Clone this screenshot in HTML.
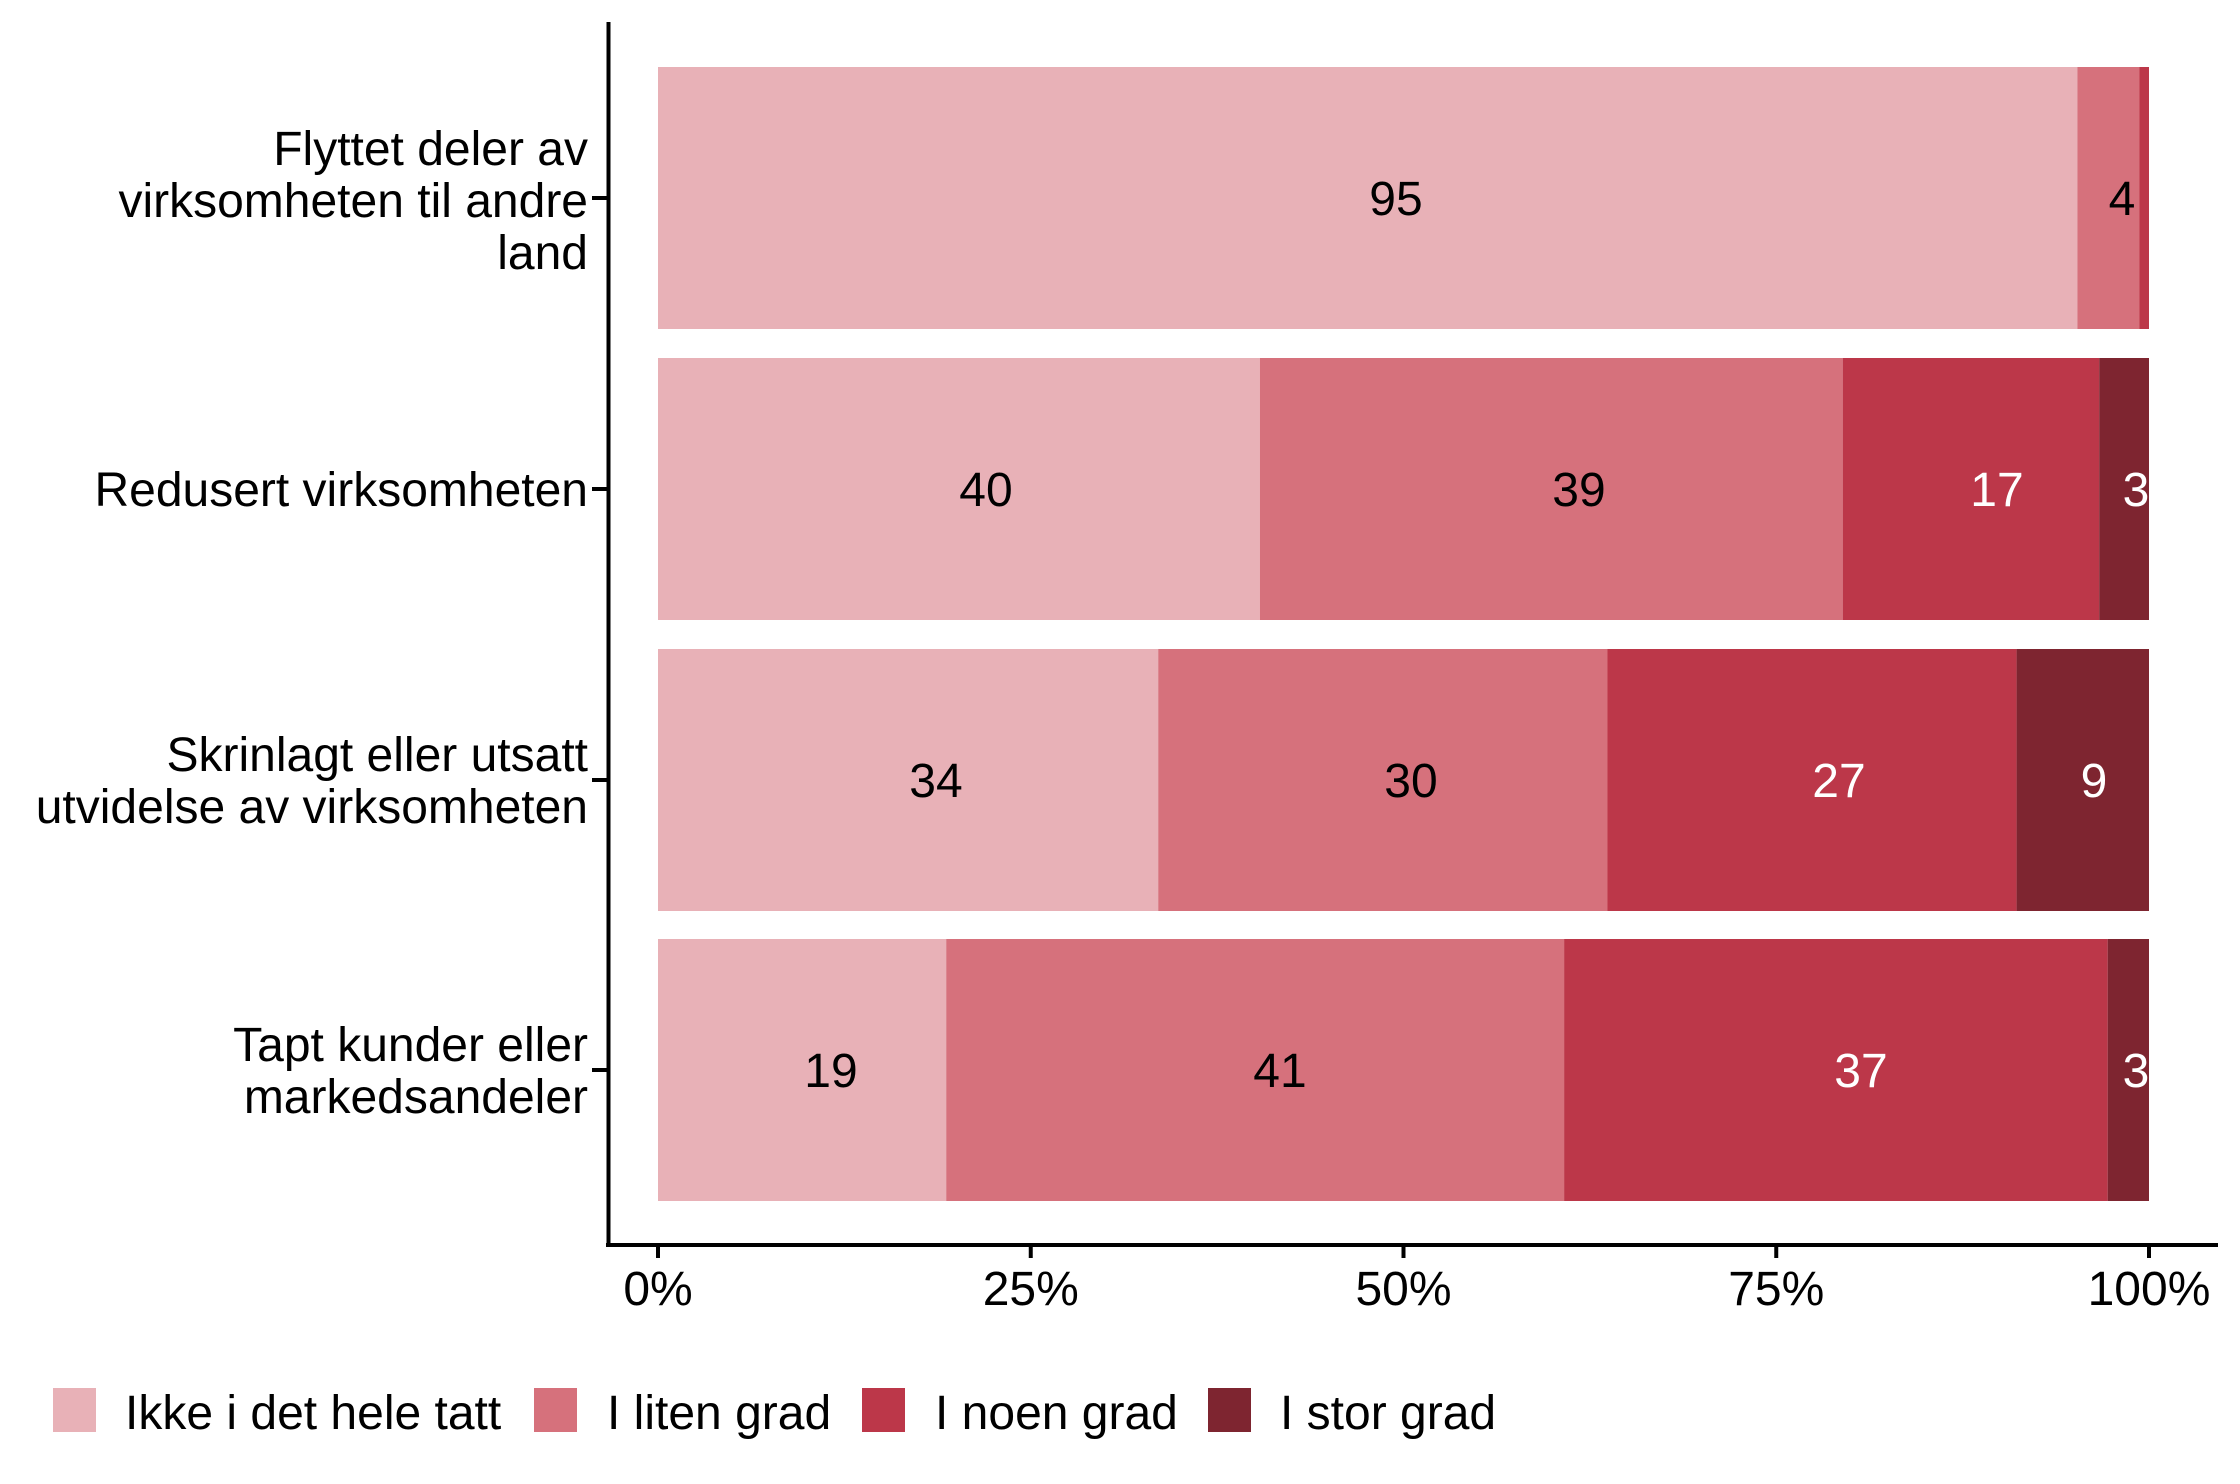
<!DOCTYPE html>
<html><head><meta charset="utf-8"><style>
html,body{margin:0;padding:0;background:#fff}
svg{display:block}
text{font-family:"Liberation Sans",Arial,sans-serif;font-size:48px}
</style></head><body>
<svg width="2240" height="1484" viewBox="0 0 2240 1484" xmlns="http://www.w3.org/2000/svg">
<g>
<rect x="658" y="67" width="1419.4" height="262" fill="#E8B1B7"/>
<rect x="2077.4" y="67" width="62.1" height="262" fill="#D6717C"/>
<rect x="2139.5" y="67" width="9.5" height="262" fill="#BC3749"/>

<rect x="658" y="358" width="601.9" height="262" fill="#E8B1B7"/>
<rect x="1259.9" y="358" width="582.8" height="262" fill="#D6717C"/>
<rect x="1842.7" y="358" width="256.5" height="262" fill="#BC3749"/>
<rect x="2099.2" y="358" width="49.8" height="262" fill="#7E2530"/>

<rect x="658" y="649" width="500.2" height="262" fill="#E8B1B7"/>
<rect x="1158.2" y="649" width="449.3" height="262" fill="#D6717C"/>
<rect x="1607.5" y="649" width="409.1" height="262" fill="#BC3749"/>
<rect x="2016.6" y="649" width="132.4" height="262" fill="#7E2530"/>

<rect x="658" y="939" width="288.2" height="262" fill="#E8B1B7"/>
<rect x="946.2" y="939" width="617.9" height="262" fill="#D6717C"/>
<rect x="1564.1" y="939" width="543.6" height="262" fill="#BC3749"/>
<rect x="2107.7" y="939" width="41.3" height="262" fill="#7E2530"/>
</g>
<g text-anchor="middle">
<text x="1396" y="215" fill="#000">95</text>
<text x="2122" y="215" fill="#000">4</text>
<text x="986" y="506" fill="#000">40</text>
<text x="1579" y="506" fill="#000">39</text>
<text x="1997" y="506" fill="#fff">17</text>
<text x="2136" y="506" fill="#fff">3</text>
<text x="936" y="797" fill="#000">34</text>
<text x="1411" y="797" fill="#000">30</text>
<text x="1839" y="797" fill="#fff">27</text>
<text x="2094" y="797" fill="#fff">9</text>
<text x="831" y="1087" fill="#000">19</text>
<text x="1280" y="1087" fill="#000">41</text>
<text x="1861" y="1087" fill="#fff">37</text>
<text x="2136" y="1087" fill="#fff">3</text>
</g>
<line x1="608.5" y1="22" x2="608.5" y2="1247" stroke="#000" stroke-width="4"/>
<line x1="606" y1="1245" x2="2218" y2="1245" stroke="#000" stroke-width="4"/>
<g stroke="#000" stroke-width="4">
<line x1="592" y1="198" x2="607" y2="198"/>
<line x1="592" y1="489" x2="607" y2="489"/>
<line x1="592" y1="780" x2="607" y2="780"/>
<line x1="592" y1="1070" x2="607" y2="1070"/>
<line x1="658" y1="1246" x2="658" y2="1258"/>
<line x1="1030.75" y1="1246" x2="1030.75" y2="1258"/>
<line x1="1403.5" y1="1246" x2="1403.5" y2="1258"/>
<line x1="1776.25" y1="1246" x2="1776.25" y2="1258"/>
<line x1="2149" y1="1246" x2="2149" y2="1258"/>
</g>
<g text-anchor="end" fill="#000">
<text x="588" y="165">Flyttet deler av</text>
<text x="588" y="217">virksomheten til andre</text>
<text x="588" y="269">land</text>
<text x="588" y="506">Redusert virksomheten</text>
<text x="588" y="771">Skrinlagt eller utsatt</text>
<text x="588" y="823">utvidelse av virksomheten</text>
<text x="588" y="1061">Tapt kunder eller</text>
<text x="588" y="1113">markedsandeler</text>
</g>
<g text-anchor="middle" fill="#000">
<text x="658" y="1305">0%</text>
<text x="1030.75" y="1305">25%</text>
<text x="1403.5" y="1305">50%</text>
<text x="1776.25" y="1305">75%</text>
<text x="2149" y="1305">100%</text>
</g>
<rect x="53" y="1388" width="43" height="44" fill="#E8B1B7"/>
<text x="125" y="1429">Ikke i det hele tatt</text>
<rect x="534" y="1388" width="43" height="44" fill="#D6717C"/>
<text x="607" y="1429">I liten grad</text>
<rect x="862" y="1388" width="43" height="44" fill="#BC3749"/>
<text x="935" y="1429">I noen grad</text>
<rect x="1208" y="1388" width="43" height="44" fill="#7E2530"/>
<text x="1280" y="1429">I stor grad</text>
</svg>
</body></html>
